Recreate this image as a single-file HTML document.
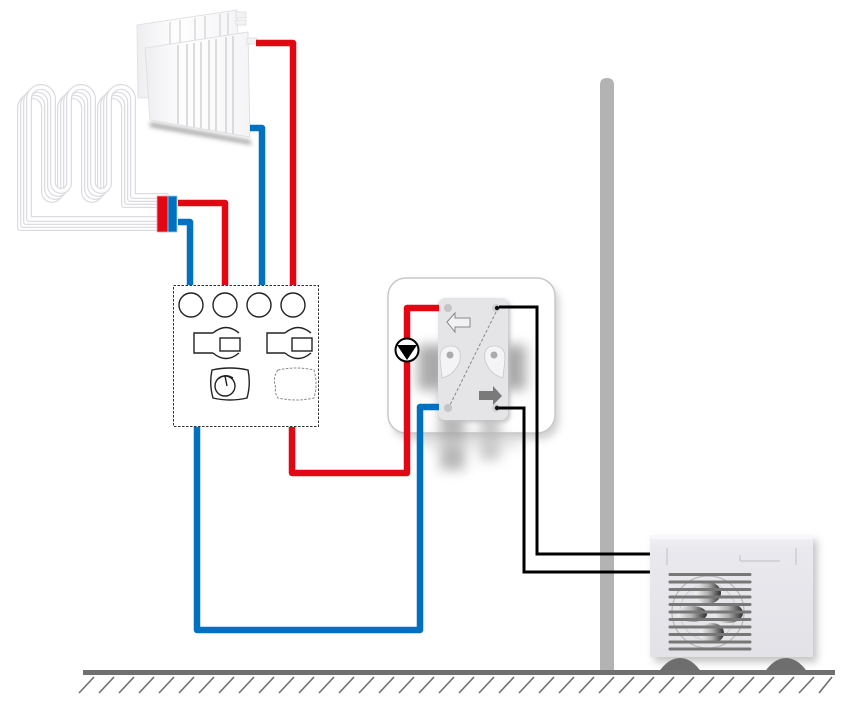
<!DOCTYPE html>
<html><head><meta charset="utf-8"><style>
html,body{margin:0;padding:0;background:#fff;}
svg{display:block;}
</style></head><body>
<svg width="852" height="712" viewBox="0 0 852 712" xmlns="http://www.w3.org/2000/svg">
<defs>
 <filter id="blur4" x="-50%" y="-50%" width="200%" height="200%"><feGaussianBlur stdDeviation="4"/></filter>
 <filter id="blur2" x="-50%" y="-50%" width="200%" height="200%"><feGaussianBlur stdDeviation="2"/></filter>
 <filter id="blur6" x="-50%" y="-50%" width="200%" height="200%"><feGaussianBlur stdDeviation="6"/></filter>
 <linearGradient id="radG" x1="0" y1="0" x2="1" y2="0">
  <stop offset="0" stop-color="#eeeef1"/><stop offset="0.4" stop-color="#fff"/><stop offset="1" stop-color="#f4f4f6"/>
 </linearGradient>
 <linearGradient id="hpG" x1="0" y1="0" x2="0" y2="1">
  <stop offset="0" stop-color="#f4f4f7"/><stop offset="0.1" stop-color="#e9e9ee"/><stop offset="1" stop-color="#e2e2e7"/>
 </linearGradient>
 <linearGradient id="bladeG" x1="0" y1="0" x2="1" y2="0">
  <stop offset="0" stop-color="#f4f4f4"/><stop offset="0.5" stop-color="#b0b0b0"/><stop offset="1" stop-color="#2e2e2e"/>
 </linearGradient>
</defs>

<!-- underfloor coil -->
<g fill="none" stroke-linecap="round" stroke-linejoin="round">
 <g id="coil">
  <path d="M157 205 H124 V108 A12 12 0 0 0 100 108 V192 A8 8 0 0 1 84 192 V108 A12 12 0 0 0 60 108 V192 A8 8 0 0 1 44 192 V108 A12 12 0 0 0 20 108 V228 H157" stroke="#dcdce0" stroke-width="6"/>
  <path d="M157 205 H124 V108 A12 12 0 0 0 100 108 V192 A8 8 0 0 1 84 192 V108 A12 12 0 0 0 60 108 V192 A8 8 0 0 1 44 192 V108 A12 12 0 0 0 20 108 V228 H157" stroke="#ffffff" stroke-width="3.5"/>
 </g>
 <use href="#coil" transform="translate(3,-3)"/>
 <use href="#coil" transform="translate(6,-6)"/>
 <use href="#coil" transform="translate(9,-9)"/>
</g>

<!-- radiator -->
<g>
 <polygon points="137,25 237,10 240,95 138,98" fill="url(#radG)" stroke="#e2e2e6" stroke-width="1"/>
 <g stroke="#d8d8dc" stroke-width="1.5">
  <line x1="170" y1="22" x2="170" y2="45"/><line x1="180" y1="20" x2="180" y2="45"/>
  <line x1="195" y1="18" x2="195" y2="42"/><line x1="205" y1="16" x2="205" y2="42"/>
  <line x1="220" y1="14" x2="220" y2="40"/><line x1="228" y1="13" x2="228" y2="40"/>
 </g>
 <rect x="236" y="12" width="10" height="6" fill="#f2f2f4" stroke="#ddd" stroke-width="0.8"/>
 <rect x="236" y="20" width="10" height="5" fill="#f2f2f4" stroke="#ddd" stroke-width="0.8"/>
 <polygon points="150,122 250,140 252,145 150,127" fill="#aaa" filter="url(#blur2)"/>
 <polygon points="145,48 248,32 250,137 150,120" fill="url(#radG)" stroke="#e0e0e4" stroke-width="1"/>
 <g stroke="#d4d4d8" stroke-width="1.6">
  <line x1="178" y1="45" x2="178" y2="124"/><line x1="187" y1="44" x2="187" y2="126"/>
  <line x1="194" y1="43" x2="194" y2="127"/><line x1="201" y1="42" x2="201" y2="128"/>
  <line x1="209" y1="40" x2="209" y2="130"/><line x1="216" y1="39" x2="216" y2="131"/>
  <line x1="226" y1="37" x2="226" y2="133"/><line x1="233" y1="36" x2="233" y2="134"/>
 </g>
 <rect x="247" y="38" width="10" height="6" fill="#f2f2f4" stroke="#ddd" stroke-width="0.8"/>
</g>

<!-- manifold connector -->
<rect x="157" y="196" width="11" height="36" fill="#e30613" stroke="#f5a0a5" stroke-width="0.8"/>
<rect x="168" y="196" width="9" height="36" fill="#0070c0" stroke="#9cc8ea" stroke-width="0.8"/>

<!-- pipes -->
<g fill="none" stroke-width="6.5" stroke-linejoin="round">
 <path d="M256 43 H293 V285" stroke="#e30613"/>
 <path d="M250 128 H262 V285" stroke="#0070c0"/>
 <path d="M178 203 H225 V285" stroke="#e30613"/>
 <path d="M178 222 H190 V285" stroke="#0070c0"/>
</g>

<!-- control box -->
<rect x="173.5" y="285.5" width="145" height="141" fill="#fff" stroke="#333" stroke-width="1" stroke-dasharray="2.5,1.5"/>
<g fill="#fff" stroke="#222" stroke-width="1.4">
 <circle cx="191" cy="305" r="12"/><circle cx="225" cy="305" r="12"/>
 <circle cx="259" cy="305" r="12"/><circle cx="293" cy="305" r="12"/>
</g>
<g fill="none" stroke="#222" stroke-width="1.4">
 <path d="M213 333 H194 V353 H213 M213 333 Q226 322 239 333 M213 353 Q226 364 239 353"/>
 <rect x="220" y="338" width="20" height="13"/>
 <path d="M285 333 H267 V353 H285 M285 333 Q298 322 311 333 M285 353 Q298 364 311 353"/>
 <rect x="292" y="338" width="20" height="13"/>
 <path d="M212 370 Q230 366 248 370 Q251 384 247 398 Q230 402 213 398 Q209 384 212 370 Z"/>
 <circle cx="225" cy="386" r="10"/>
 <path d="M218 379 Q225 373 233 378 M225 376 L227 386"/>
</g>
<path d="M278 370 Q296 366 314 370 Q318 384 314 398 Q296 402 278 398 Q274 392 276 388 Q272 378 278 370 Z" fill="none" stroke="#888" stroke-width="1" stroke-dasharray="2.5,1.5"/>

<!-- switch box -->
<rect x="392" y="284" width="167" height="155" rx="18" fill="#bbb" filter="url(#blur4)" opacity="0.7"/>
<rect x="388" y="278" width="167" height="155" rx="18" fill="#fff" stroke="#c8c8c8" stroke-width="1.5"/>
<g filter="url(#blur6)" opacity="0.8">
 <rect x="418" y="345" width="108" height="45" fill="#959595"/>
 <rect x="440" y="380" width="25" height="90" fill="#a5a5a5"/>
 <rect x="480" y="390" width="20" height="70" fill="#b8b8b8"/>
 <rect x="420" y="440" width="100" height="6" fill="#c8c8c8"/>
</g>
<rect x="440" y="300" width="70" height="122" rx="7" fill="#c0c0c0" filter="url(#blur2)"/>
<rect x="438" y="298" width="70" height="122" rx="7" fill="#e5e5e8"/>
<g>
 <circle cx="448" cy="308" r="4" fill="#c4c4c8"/>
 <circle cx="496" cy="308" r="4" fill="#d0d0d4"/><circle cx="497" cy="308" r="2.2" fill="#111"/>
 <circle cx="448" cy="408" r="4" fill="#c4c4c8"/>
 <circle cx="496" cy="408" r="4" fill="#d0d0d4"/><circle cx="497" cy="408" r="2.2" fill="#111"/>
 <path d="M440 358 Q440 346 451 346 Q462 346 460 360 Q456 374 442 378 Z" fill="#f4f4f6" stroke="#c8c8cc" stroke-width="0.8"/>
 <circle cx="450" cy="355" r="3.5" fill="#aaa"/>
 <path d="M505 358 Q505 346 494 346 Q483 346 485 360 Q489 374 503 378 Z" fill="#f4f4f6" stroke="#c8c8cc" stroke-width="0.8"/>
 <circle cx="494" cy="355" r="3.5" fill="#aaa"/>
 <path d="M447 322 L455 313 V318 H470 V327 H455 V332 Z" fill="#f2f2f4" stroke="#888" stroke-width="1"/>
 <path d="M479 391 H493 V386 L502 396 L493 405 V400 H479 Z" fill="#7a7a7a"/>
 <line x1="496" y1="312" x2="450" y2="405" stroke="#888" stroke-width="1" stroke-dasharray="3,2"/>
</g>

<!-- pole -->
<path d="M600 85 Q600 78 607 78 Q614 78 614 85 V671 H600 Z" fill="#b3b3b3"/>

<!-- lower pipes -->
<g fill="none" stroke-width="6.5" stroke-linejoin="round">
 <path d="M197 427 V630 H420 V407 H439" stroke="#0070c0"/>
 <path d="M292 427 V473 H407 V308 H439" stroke="#e30613"/>
</g>
<!-- pump -->
<circle cx="407" cy="350" r="11.5" fill="#fff" stroke="#000" stroke-width="2"/>
<path d="M397 345 H417 L407 360 Z" fill="#000"/>

<!-- wires -->
<g fill="none" stroke="#000" stroke-width="3" stroke-linejoin="miter">
 <path d="M499 307 H537 V554 H652"/>
 <path d="M499 408 H524 V572 H652"/>
</g>

<!-- heat pump -->
<rect x="654" y="540" width="163" height="122" fill="#aaa" filter="url(#blur4)" opacity="0.7"/>
<rect x="650" y="535" width="163" height="122" fill="url(#hpG)"/>
<rect x="650" y="535" width="163" height="4" fill="#f7f7f9"/>
<g stroke="#c6c6cc" stroke-width="1.2">
 <line x1="667" y1="548" x2="667" y2="565"/><line x1="796" y1="548" x2="796" y2="565"/>
 <line x1="740" y1="561" x2="780" y2="561"/><line x1="740" y1="555" x2="740" y2="561"/>
</g>
<circle cx="708" cy="612" r="36" fill="none" stroke="#b8b8b8" stroke-width="1.2"/>
<circle cx="708" cy="612" r="28" fill="none" stroke="#c8c8c8" stroke-width="0.8"/>
<g>
 <ellipse cx="708" cy="593" rx="13" ry="11" fill="url(#bladeG)"/>
 <ellipse cx="728" cy="613" rx="15" ry="10" fill="url(#bladeG)"/>
 <ellipse cx="692" cy="614" rx="15" ry="8" fill="url(#bladeG)"/>
 <ellipse cx="712" cy="633" rx="12" ry="10" fill="url(#bladeG)"/>
</g>
<g stroke="#777" stroke-width="3" stroke-linecap="round">
 <line x1="670" y1="574.5" x2="750" y2="574.5"/>
 <line x1="670" y1="582" x2="750" y2="582"/>
 <line x1="670" y1="589.5" x2="750" y2="589.5"/>
 <line x1="670" y1="597" x2="750" y2="597"/>
 <line x1="670" y1="604.5" x2="750" y2="604.5"/>
 <line x1="670" y1="612" x2="750" y2="612"/>
 <line x1="670" y1="619.5" x2="750" y2="619.5"/>
 <line x1="670" y1="627" x2="750" y2="627"/>
 <line x1="670" y1="634.5" x2="750" y2="634.5"/>
 <line x1="670" y1="642" x2="750" y2="642"/>
 <line x1="670" y1="649" x2="750" y2="649"/>
</g>
<!-- feet -->
<path d="M658 673 Q668 658 680 658 Q692 658 702 673 Z" fill="#6e6e6e"/>
<path d="M764 673 Q774 658 786 658 Q798 658 808 673 Z" fill="#6e6e6e"/>

<!-- ground -->
<rect x="83" y="670" width="752" height="5" fill="#707070"/>
<g stroke="#707070" stroke-width="1.6">
 <line x1="94" y1="677" x2="79" y2="693"/><line x1="114" y1="677" x2="99" y2="693"/>
 <line x1="134" y1="677" x2="119" y2="693"/><line x1="154" y1="677" x2="139" y2="693"/>
 <line x1="174" y1="677" x2="159" y2="693"/><line x1="194" y1="677" x2="179" y2="693"/>
 <line x1="214" y1="677" x2="199" y2="693"/><line x1="234" y1="677" x2="219" y2="693"/>
 <line x1="254" y1="677" x2="239" y2="693"/><line x1="274" y1="677" x2="259" y2="693"/>
 <line x1="294" y1="677" x2="279" y2="693"/><line x1="314" y1="677" x2="299" y2="693"/>
 <line x1="334" y1="677" x2="319" y2="693"/><line x1="354" y1="677" x2="339" y2="693"/>
 <line x1="374" y1="677" x2="359" y2="693"/><line x1="394" y1="677" x2="379" y2="693"/>
 <line x1="414" y1="677" x2="399" y2="693"/><line x1="434" y1="677" x2="419" y2="693"/>
 <line x1="454" y1="677" x2="439" y2="693"/><line x1="474" y1="677" x2="459" y2="693"/>
 <line x1="494" y1="677" x2="479" y2="693"/><line x1="514" y1="677" x2="499" y2="693"/>
 <line x1="534" y1="677" x2="519" y2="693"/><line x1="554" y1="677" x2="539" y2="693"/>
 <line x1="574" y1="677" x2="559" y2="693"/><line x1="594" y1="677" x2="579" y2="693"/>
 <line x1="614" y1="677" x2="599" y2="693"/><line x1="634" y1="677" x2="619" y2="693"/>
 <line x1="654" y1="677" x2="639" y2="693"/><line x1="674" y1="677" x2="659" y2="693"/>
 <line x1="694" y1="677" x2="679" y2="693"/><line x1="714" y1="677" x2="699" y2="693"/>
 <line x1="734" y1="677" x2="719" y2="693"/><line x1="754" y1="677" x2="739" y2="693"/>
 <line x1="774" y1="677" x2="759" y2="693"/><line x1="794" y1="677" x2="779" y2="693"/>
 <line x1="814" y1="677" x2="799" y2="693"/><line x1="832" y1="677" x2="819" y2="693"/>
</g>
</svg>
</body></html>
